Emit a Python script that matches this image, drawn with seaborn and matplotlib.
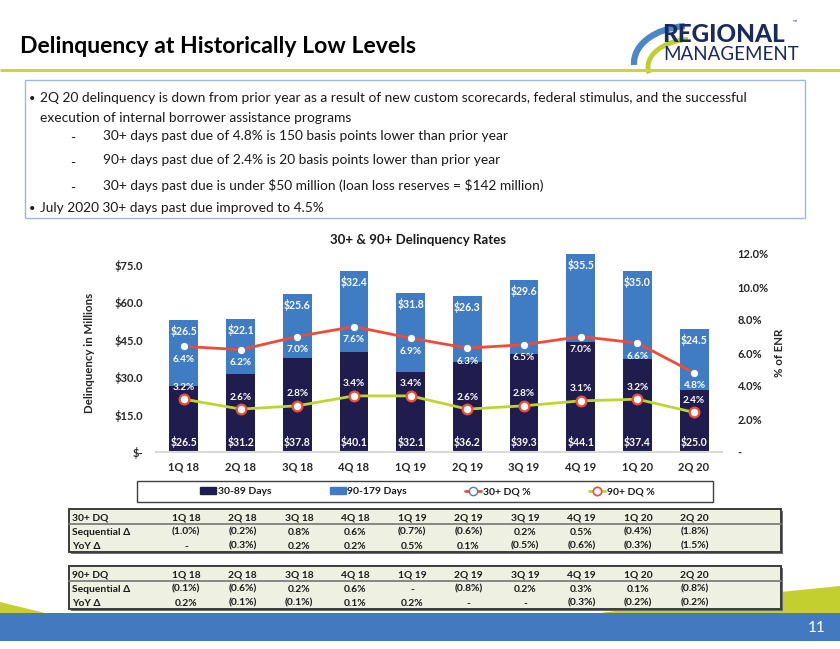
import numpy as np
import pandas as pd
import matplotlib
matplotlib.use("Agg")
import matplotlib.pyplot as plt
import matplotlib.patches as mpatches
from matplotlib.lines import Line2D
import seaborn as sns

# ---------------- data ----------------
quarters = ["1Q 18", "2Q 18", "3Q 18", "4Q 18", "1Q 19", "2Q 19", "3Q 19", "4Q 19", "1Q 20", "2Q 20"]
days_30_89 = [26.5, 31.2, 37.8, 40.1, 32.1, 36.2, 39.3, 44.1, 37.4, 25.0]
days_90_179 = [26.5, 22.1, 25.6, 32.4, 31.8, 26.3, 29.6, 35.5, 35.0, 24.5]
dq30_pct = [6.4, 6.2, 7.0, 7.6, 6.9, 6.3, 6.5, 7.0, 6.6, 4.8]
dq90_pct = [3.2, 2.6, 2.8, 3.4, 3.4, 2.6, 2.8, 3.1, 3.2, 2.4]

left_ticks = [0, 15, 30, 45, 60, 75]
left_tick_labels = ["$-", "$15.0", "$30.0", "$45.0", "$60.0", "$75.0"]
right_ticks = [0, 2, 4, 6, 8, 10, 12]
right_tick_labels = ["-", "2.0%", "4.0%", "6.0%", "8.0%", "10.0%", "12.0%"]

dq30_seq = ["(1.0%)", "(0.2%)", "0.8%", "0.6%", "(0.7%)", "(0.6%)", "0.2%", "0.5%", "(0.4%)", "(1.8%)"]
dq30_yoy = ["-", "(0.3%)", "0.2%", "0.2%", "0.5%", "0.1%", "(0.5%)", "(0.6%)", "(0.3%)", "(1.5%)"]
dq90_seq = ["(0.1%)", "(0.6%)", "0.2%", "0.6%", "-", "(0.8%)", "0.2%", "0.3%", "0.1%", "(0.8%)"]
dq90_yoy = ["0.2%", "(0.1%)", "(0.1%)", "0.1%", "0.2%", "-", "-", "(0.3%)", "(0.2%)", "(0.2%)"]

title = "Delinquency at Historically Low Levels"
chart_title = "30+ & 90+ Delinquency Rates"
bullets = [
    ("•", "2Q 20 delinquency is down from prior year as a result of new custom scorecards, federal stimulus, and the successful"),
    ("", "execution of internal borrower assistance programs"),
    ("-", "30+ days past due of 4.8% is 150 basis points lower than prior year"),
    ("-", "90+ days past due of 2.4% is 20 basis points lower than prior year"),
    ("-", "30+ days past due is under $50 million (loan loss reserves = $142 million)"),
    ("•", "July 2020 30+ days past due improved to 4.5%"),
]

# ---------------- style ----------------
DARK = "#201C4E"
LIGHT = "#3F7CC4"
RED = "#F04B37"
YG = "#BED531"
NAVY = "#1B2A5C"
TXT = "#1A1A1A"

sns.set_theme(style="white")
plt.rcParams['font.family'] = ['Lato', 'DejaVu Sans']
plt.rcParams['text.color'] = TXT
plt.rcParams['text.parse_math'] = False

W, H = 840, 649
fig = plt.figure(figsize=(8.4, 6.49), dpi=100)
fig.patch.set_facecolor("white")

bg = fig.add_axes([0, 0, 1, 1], zorder=0)
bg.set_xlim(0, W)
bg.set_ylim(H, 0)
bg.axis("off")

# header
bg.text(20, 53, title, fontsize=16.6, fontweight="bold", color="black", va="baseline", ha="left")
bg.plot([0, W], [70, 70], color="#C9D73A", lw=2.2, solid_capstyle="butt")

# logo
bg.add_patch(mpatches.Arc((690, 63), 112, 74, theta1=178, theta2=262, color="#4A86C8", lw=4.5))
bg.add_patch(mpatches.Arc((694, 67), 92, 56, theta1=172, theta2=258, color="#BCCF2F", lw=3.5))
bg.text(662, 35, "REGIONAL", fontsize=17.5, fontweight="black", color=NAVY, va="center", ha="left")
bg.text(663, 55, "MANAGEMENT", fontsize=13.5, color=NAVY, va="center", ha="left")
bg.text(793, 22, "™", fontsize=4, color=NAVY, va="center", ha="left")

# bullet box
bg.add_patch(mpatches.Rectangle((25, 80), 780, 138, fill=False, ec="#9DB8DE", lw=1))
ys = [98, 117, 135, 160, 185, 208]
FS_B = 9.9
off = 4.5
for (mk, t), y in zip(bullets, ys):
    if mk == "•":
        bg.text(29, y + off, "•", fontsize=8, va="baseline", ha="left", color=TXT)
        bg.text(40, y + off, t, fontsize=FS_B, va="baseline", ha="left", color=TXT)
    elif mk == "-":
        bg.text(70, y + off + 3, "-", fontsize=FS_B, va="baseline", ha="left", color=TXT)
        bg.text(103, y + off, t, fontsize=FS_B, va="baseline", ha="left", color=TXT)
    else:
        bg.text(40, y + off, t, fontsize=FS_B, va="baseline", ha="left", color=TXT)

# chart title
bg.text(418, 244.5, chart_title, fontsize=9.5, fontweight="bold", ha="center", va="baseline", color=TXT)

# ---------------- chart ----------------
L, R, T, B = 155.6, 722.4, 254, 452
ax = fig.add_axes([L / W, 1 - B / H, (R - L) / W, (B - T) / H], zorder=2)
ax.patch.set_alpha(0)

df = pd.DataFrame({"quarter": quarters, "d30": days_30_89, "d90": days_90_179})
df["total"] = df["d30"] + df["d90"]

sns.barplot(data=df, x="quarter", y="total", color=LIGHT, saturation=1, width=0.51,
            errorbar=None, linewidth=0, ax=ax)
sns.barplot(data=df, x="quarter", y="d30", color=DARK, saturation=1, width=0.51,
            errorbar=None, linewidth=0, ax=ax)

ax.set_xlim(-0.5, len(quarters) - 0.5)
ax.set_ylim(0, 79.41)
ax.set_xlabel("")
ax.set_ylabel("Delinquency in Millions", fontsize=8.3, fontweight="bold", labelpad=14)
ax.set_yticks(left_ticks)
ax.set_yticklabels(left_tick_labels, fontsize=8, fontweight="bold")
ax.set_xticks(range(len(quarters)))
ax.set_xticklabels(quarters, fontsize=8, fontweight="bold")
ax.tick_params(axis="y", length=0, pad=9)
ax.tick_params(axis="x", length=0, pad=7)
for s in ["top", "right", "left"]:
    ax.spines[s].set_visible(False)
ax.spines["bottom"].set_color("#D9D9D9")
ax.spines["bottom"].set_linewidth(1.5)
ax.grid(False)

for i, (a, b) in enumerate(zip(days_30_89, days_90_179)):
    ax.annotate(f"${a:.1f}", (i, 0), xytext=(0, 10), textcoords="offset pixels",
                ha="center", va="center", fontsize=7.6, fontweight="bold", color="white")
    ax.annotate(f"${b:.1f}", (i, a + b), xytext=(0, -11), textcoords="offset pixels",
                ha="center", va="center", fontsize=7.6, fontweight="bold", color="white")

ax2 = ax.twinx()
xpos = np.arange(len(quarters))
sns.lineplot(x=xpos, y=dq30_pct, ax=ax2, color=RED, lw=2, marker="o", markersize=6,
             markerfacecolor="white", markeredgecolor="#4A7EBB", markeredgewidth=0.8, legend=False)
sns.lineplot(x=xpos, y=dq90_pct, ax=ax2, color=YG, lw=2, marker="o", markersize=7,
             markerfacecolor="white", markeredgecolor=RED, markeredgewidth=1.6, legend=False)
ax2.set_xlim(-0.5, len(quarters) - 0.5)
ax2.set_ylim(0, 12)
ax2.set_yticks(right_ticks)
ax2.set_yticklabels(right_tick_labels, fontsize=8, fontweight="bold")
ax2.tick_params(axis="y", length=0, pad=11)
ax2.set_ylabel("% of ENR", fontsize=8.3, fontweight="bold", labelpad=4)
for s in ["top", "right", "left", "bottom"]:
    ax2.spines[s].set_visible(False)
ax2.grid(False)

for i, p in enumerate(dq30_pct):
    ax2.annotate(f"{p:.1f}%", (i, p), xytext=(0, -13), textcoords="offset pixels",
                 ha="center", va="center", fontsize=7.2, fontweight="bold", color="white")
for i, p in enumerate(dq90_pct):
    ax2.annotate(f"{p:.1f}%", (i, p), xytext=(0, 12), textcoords="offset pixels",
                 ha="center", va="center", fontsize=7.2, fontweight="bold", color="white")

# legend
bg.add_patch(mpatches.Rectangle((137, 481), 576, 21, fill=False, ec="#404040", lw=1))
handles = [
    mpatches.Patch(color=DARK, label="30-89 Days"),
    mpatches.Patch(color=LIGHT, label="90-179 Days"),
    Line2D([], [], color=RED, lw=2, marker="o", markersize=6, markerfacecolor="white",
           markeredgecolor="#4A7EBB", markeredgewidth=1, label="30+ DQ %"),
    Line2D([], [], color=YG, lw=2, marker="o", markersize=6, markerfacecolor="white",
           markeredgecolor=RED, markeredgewidth=1.2, label="90+ DQ %"),
]
fig.legend(handles=handles, loc="center left", bbox_to_anchor=(200 / W, 1 - 491.5 / H),
           ncol=4, frameon=False, handlelength=1.55, handletextpad=0.15,
           columnspacing=5.6, borderpad=0, borderaxespad=0,
           prop={"weight": "bold", "size": 7.5})

# ---------------- tables ----------------
col_x = [186 + 56.5 * i for i in range(len(quarters))]


def draw_table(top, head, seq, yoy):
    left, right = 69, 781
    h = 43
    bg.add_patch(mpatches.Rectangle((left + 2, top + 2), right - left, h, fc="#6E6E6E", ec="none"))
    bg.add_patch(mpatches.Rectangle((left, top), right - left, h, fc="#EEF0E1", ec="#3C3C3C", lw=1.4))
    bg.plot([left, right], [top + 15, top + 15], color="#7F7F7F", lw=1.3)
    rows = [(head, quarters), ("Sequential Δ", seq), ("YoY Δ", yoy)]
    for r, (lab, vals) in enumerate(rows):
        y = top + 8 + 14 * r + 3.7
        bg.text(left + 3, y, lab, fontsize=7.4, fontweight="bold", ha="left", va="baseline", color=TXT)
        for xc, v in zip(col_x, vals):
            bg.text(xc, y, v, fontsize=7.4, fontweight="bold", ha="center", va="baseline", color=TXT)


# footer decorations (drawn before tables)
bg.add_patch(mpatches.Polygon([[600, 613], [700, 600], [780, 592], [840, 586], [840, 613]],
                              closed=True, fc="#C2CF2E", ec="none"))
bg.add_patch(mpatches.Polygon([[0, 602], [45, 613], [0, 613]], closed=True, fc="#C2CF2E", ec="none"))
bg.add_patch(mpatches.Rectangle((0, 613), W, 28, fc="#4279BF", ec="none"))
bg.text(826, 632, "11", fontsize=11, color="white", ha="right", va="baseline")

draw_table(509, "30+ DQ", dq30_seq, dq30_yoy)
draw_table(566, "90+ DQ", dq90_seq, dq90_yoy)

fig.savefig("out.png", dpi=100, facecolor="white")
